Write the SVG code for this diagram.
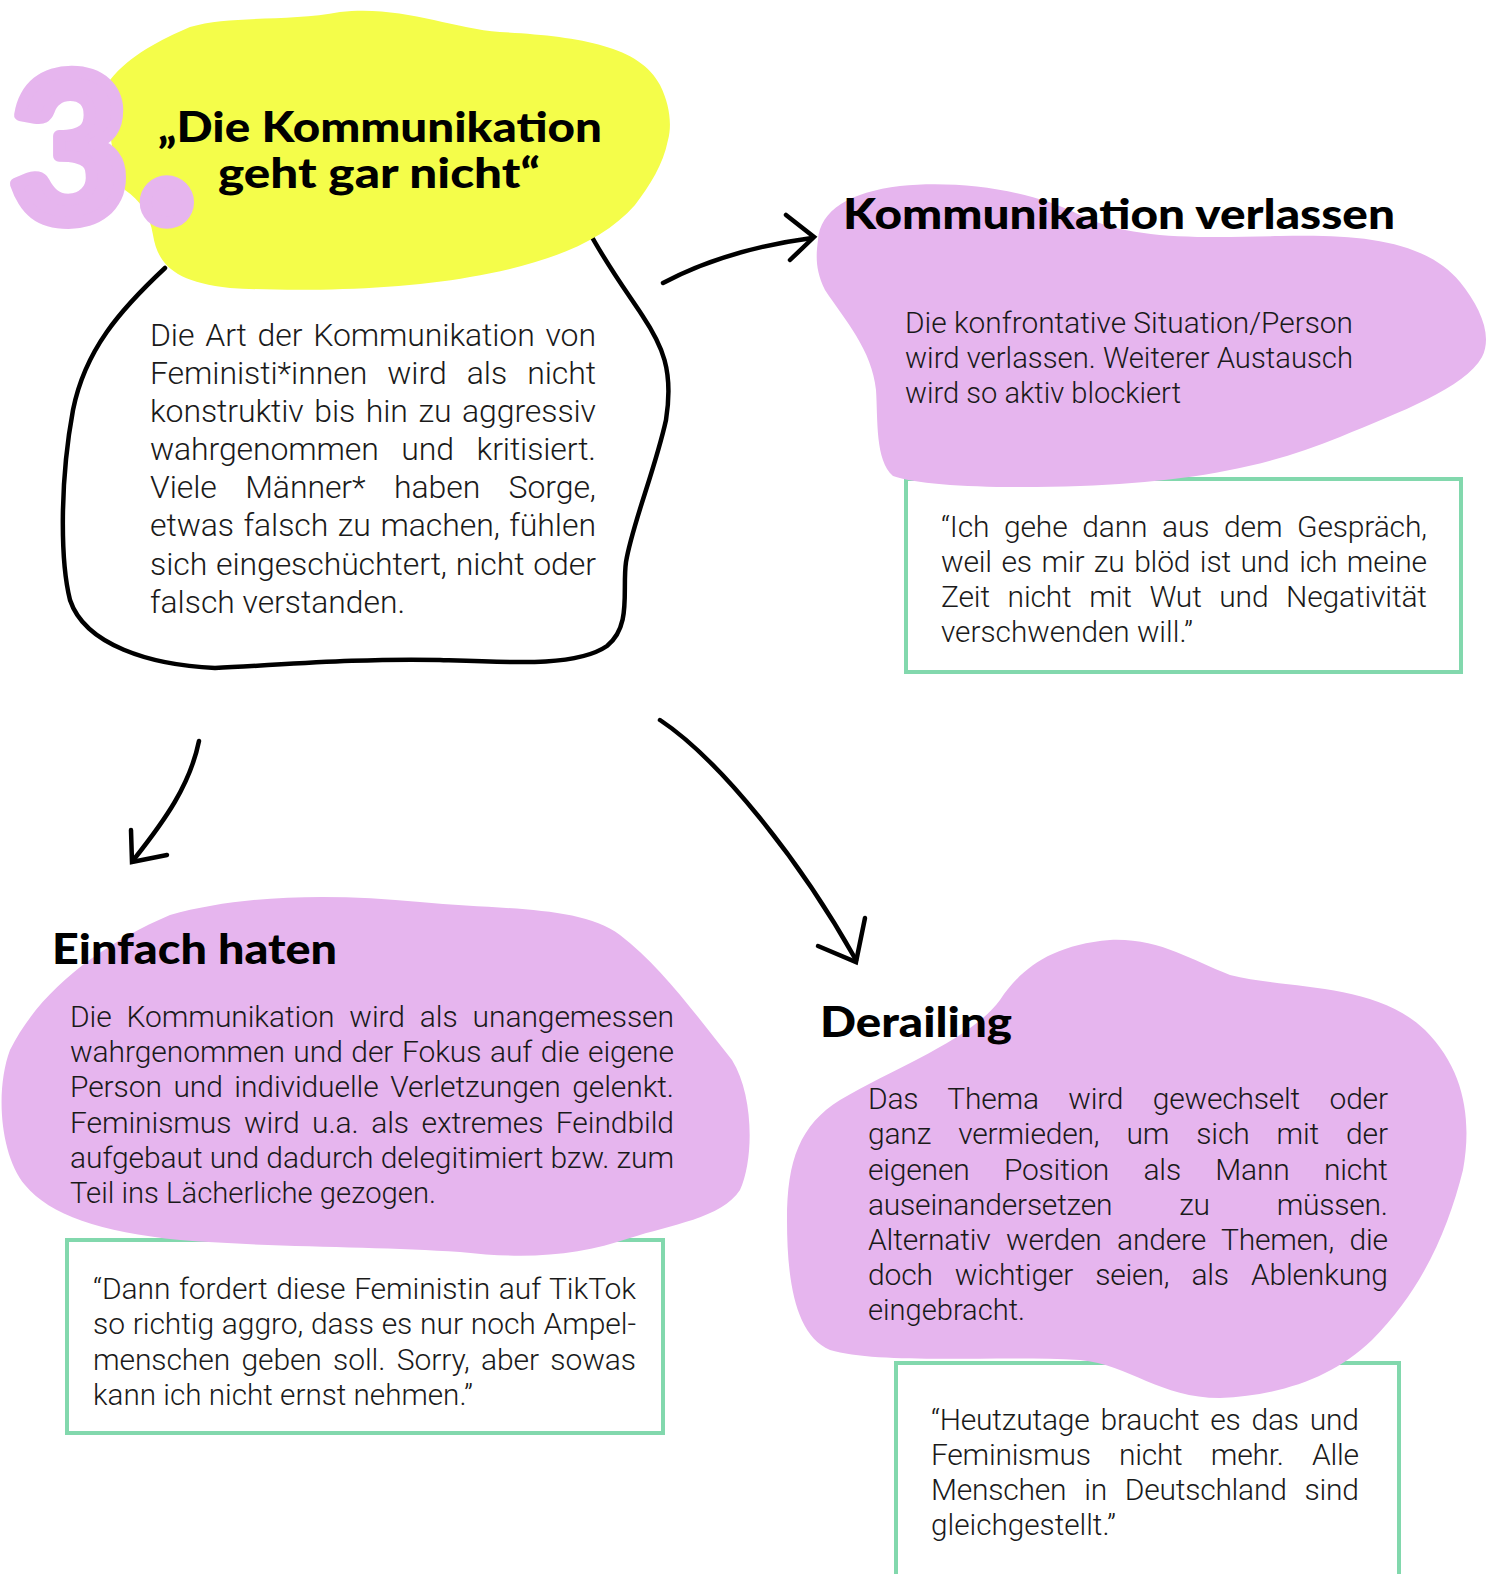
<svg xmlns="http://www.w3.org/2000/svg" width="1495" height="1574" viewBox="0 0 1495 1574">
<style>
.bg{fill:#ffffff}
.body{font-family:Roboto,"Liberation Sans",sans-serif;font-weight:300;fill:#1a1a1a;font-size:30px}
.main{font-size:32px}
.head{font-family:Lato,"Liberation Sans",sans-serif;font-weight:900;fill:#000000;font-size:42px}
.num{font-family:Lato,"Liberation Sans",sans-serif;font-weight:900;font-size:205px;fill:#e6b5ee;stroke:#e6b5ee;stroke-width:12;stroke-linejoin:round}
.dot{font-size:260px}
.pink{fill:#e6b5ee}
.yellow{fill:#f4fd4a}
.quote{fill:#ffffff;stroke:#82d8ad;stroke-width:4}
.outline{fill:none;stroke:#000000;stroke-width:4.5;stroke-linecap:round;stroke-linejoin:round}
.conn{fill:none;stroke:#000000;stroke-width:4.5;stroke-linecap:round;stroke-linejoin:miter}
</style>
<rect class="bg" x="0" y="0" width="1495" height="1574"/>

<g id="node-main">
<path class="outline" d="M165,268 C120,310 85,350 73,410 C60,480 60,560 70,600 C85,645 150,665 215,668 C280,665 360,658 440,660 C520,663 578,666 607,646 C632,626 622,590 626,562 C632,525 655,470 666,420 C674,370 662,345 642,315 C622,285 605,262 587,228"/>
<path class="yellow" d="M110,80 C130,55 160,40 190,27 C230,15 290,22 340,12 C400,5 450,28 500,32 C575,36 640,45 660,85 C670,105 672,125 668,140 C663,165 650,185 635,205 C600,245 540,265 470,277 C400,290 300,292 230,288 C175,282 158,265 153,235 C150,215 140,200 125,190 C108,150 105,100 110,80 Z"/>
<text class="num" x="10" y="221">3<tspan class="dot" dx="7">.</tspan></text>
<text class="head" x="158" y="142" textLength="444" lengthAdjust="spacingAndGlyphs">„Die Kommunikation</text>
<text class="head" x="218" y="188" textLength="322" lengthAdjust="spacingAndGlyphs">geht gar nicht“</text>
<text class="body main" x="150" y="346" word-spacing="3.1" textLength="446" lengthAdjust="spacing">Die Art der Kommunikation von</text>
<text class="body main" x="150" y="384" word-spacing="12.4" textLength="446" lengthAdjust="spacing">Feministi*innen wird als nicht</text>
<text class="body main" x="150" y="422" word-spacing="2.9" textLength="446" lengthAdjust="spacing">konstruktiv bis hin zu aggressiv</text>
<text class="body main" x="150" y="460" word-spacing="15" textLength="446" lengthAdjust="spacing">wahrgenommen und kritisiert.</text>
<text class="body main" x="150" y="498" word-spacing="20.7" textLength="446" lengthAdjust="spacing">Viele Männer* haben Sorge,</text>
<text class="body main" x="150" y="536" word-spacing="1.9" textLength="446" lengthAdjust="spacing">etwas falsch zu machen, fühlen</text>
<text class="body main" x="150" y="575" word-spacing="1.1" textLength="446" lengthAdjust="spacing">sich eingeschüchtert, nicht oder</text>
<text class="body main" x="150" y="613" textLength="255" lengthAdjust="spacingAndGlyphs">falsch verstanden.</text>
</g>

<g id="node-verlassen">
<rect class="quote" x="906" y="479" width="555" height="193"/>
<path class="pink" d="M818,240 C820,210 850,192 900,186 C960,180 1030,190 1080,215 C1130,240 1200,238 1280,236 C1360,234 1425,240 1460,282 C1480,307 1493,335 1482,357 C1465,388 1400,412 1340,437 C1260,470 1180,482 1080,486 C1000,489 920,486 893,476 C875,460 878,420 876,390 C872,350 845,320 825,290 C815,270 816,255 818,240 Z"/>
<text class="head" x="843" y="229" textLength="552" lengthAdjust="spacingAndGlyphs">Kommunikation verlassen</text>
<text class="body" x="905" y="333" textLength="448" lengthAdjust="spacingAndGlyphs">Die konfrontative Situation/Person</text>
<text class="body" x="905" y="368" textLength="448" lengthAdjust="spacingAndGlyphs">wird verlassen. Weiterer Austausch</text>
<text class="body" x="905" y="403" textLength="276" lengthAdjust="spacingAndGlyphs">wird so aktiv blockiert</text>
<text class="body" x="941" y="537" word-spacing="7.6" textLength="486" lengthAdjust="spacing">“Ich gehe dann aus dem Gespräch,</text>
<text class="body" x="941" y="572" word-spacing="2.4" textLength="486" lengthAdjust="spacing">weil es mir zu blöd ist und ich meine</text>
<text class="body" x="941" y="607" word-spacing="10.5" textLength="486" lengthAdjust="spacing">Zeit nicht mit Wut und Negativität</text>
<text class="body" x="941" y="642" textLength="252" lengthAdjust="spacingAndGlyphs">verschwenden will.”</text>
</g>

<g id="node-haten">
<rect class="quote" x="67" y="1240" width="596" height="193"/>
<path class="pink" d="M10,1050 C40,990 100,945 170,915 C240,895 330,893 420,902 C500,910 580,905 620,935 C660,965 700,1020 732,1060 C754,1095 754,1160 740,1190 C722,1218 670,1225 630,1238 C580,1255 530,1260 460,1252 C380,1246 280,1248 180,1240 C100,1232 50,1215 25,1185 C0,1155 -5,1090 10,1050 Z"/>
<text class="head" x="52" y="964" textLength="285" lengthAdjust="spacingAndGlyphs">Einfach haten</text>
<text class="body" x="70" y="1027" word-spacing="7.7" textLength="604" lengthAdjust="spacing">Die Kommunikation wird als unangemessen</text>
<text class="body" x="70" y="1062" word-spacing="1.3" textLength="604" lengthAdjust="spacing">wahrgenommen und der Fokus auf die eigene</text>
<text class="body" x="70" y="1097" word-spacing="4.3" textLength="604" lengthAdjust="spacing">Person und individuelle Verletzungen gelenkt.</text>
<text class="body" x="70" y="1133" word-spacing="5.3" textLength="604" lengthAdjust="spacing">Feminismus wird u.a. als extremes Feindbild</text>
<text class="body" x="70" y="1168" textLength="604" lengthAdjust="spacing">aufgebaut und dadurch delegitimiert bzw. zum</text>
<text class="body" x="70" y="1203" textLength="366" lengthAdjust="spacingAndGlyphs">Teil ins Lächerliche gezogen.</text>
<text class="body" x="93" y="1299" word-spacing="1.4" textLength="543" lengthAdjust="spacing">“Dann fordert diese Feministin auf TikTok</text>
<text class="body" x="93" y="1334" word-spacing="0.6" textLength="543" lengthAdjust="spacing">so richtig aggro, dass es nur noch Ampel-</text>
<text class="body" x="93" y="1370" word-spacing="4.1" textLength="543" lengthAdjust="spacing">menschen geben soll. Sorry, aber sowas</text>
<text class="body" x="93" y="1405" textLength="380" lengthAdjust="spacingAndGlyphs">kann ich nicht ernst nehmen.”</text>
</g>

<g id="node-derailing">
<rect class="quote" x="896" y="1363" width="503" height="240"/>
<path class="pink" d="M1000,1000 C1020,970 1050,945 1110,940 C1160,938 1190,960 1230,975 C1290,990 1375,982 1425,1030 C1465,1070 1472,1120 1463,1170 C1448,1230 1422,1290 1372,1340 C1332,1378 1282,1395 1220,1398 C1160,1398 1130,1365 1080,1360 C1000,1355 880,1365 830,1350 C795,1335 787,1280 787,1220 C787,1160 800,1125 840,1100 C900,1065 970,1040 1000,1000 Z"/>
<text class="head" x="820" y="1037" textLength="192" lengthAdjust="spacingAndGlyphs">Derailing</text>
<text class="body" x="868" y="1109" word-spacing="22.4" textLength="520" lengthAdjust="spacing">Das Thema wird gewechselt oder</text>
<text class="body" x="868" y="1144" word-spacing="20" textLength="520" lengthAdjust="spacing">ganz vermieden, um sich mit der</text>
<text class="body" x="868" y="1180" word-spacing="27.3" textLength="520" lengthAdjust="spacing">eigenen Position als Mann nicht</text>
<text class="body" x="868" y="1215" word-spacing="59.8" textLength="520" lengthAdjust="spacing">auseinandersetzen zu müssen.</text>
<text class="body" x="868" y="1250" word-spacing="8.2" textLength="520" lengthAdjust="spacing">Alternativ werden andere Themen, die</text>
<text class="body" x="868" y="1285" word-spacing="14.9" textLength="520" lengthAdjust="spacing">doch wichtiger seien, als Ablenkung</text>
<text class="body" x="868" y="1320" textLength="157" lengthAdjust="spacingAndGlyphs">eingebracht.</text>
<text class="body" x="931" y="1430" word-spacing="3.8" textLength="428" lengthAdjust="spacing">“Heutzutage braucht es das und</text>
<text class="body" x="931" y="1465" word-spacing="21.3" textLength="428" lengthAdjust="spacing">Feminismus nicht mehr. Alle</text>
<text class="body" x="931" y="1500" word-spacing="10.9" textLength="428" lengthAdjust="spacing">Menschen in Deutschland sind</text>
<text class="body" x="931" y="1535" textLength="185" lengthAdjust="spacingAndGlyphs">gleichgestellt.”</text>
</g>

<g id="connectors">
<path class="conn" d="M663,283 C710,258 760,245 812,238"/>
<path class="conn" d="M786,215 L814,237 L790,260"/>
<path class="conn" d="M199,741 C190,785 165,820 135,858"/>
<path class="conn" d="M131,830 L132,862 L167,855"/>
<path class="conn" d="M660,720 C720,760 800,860 856,960"/>
<path class="conn" d="M818,946 L856,962 L865,918"/>
</g>
</svg>
